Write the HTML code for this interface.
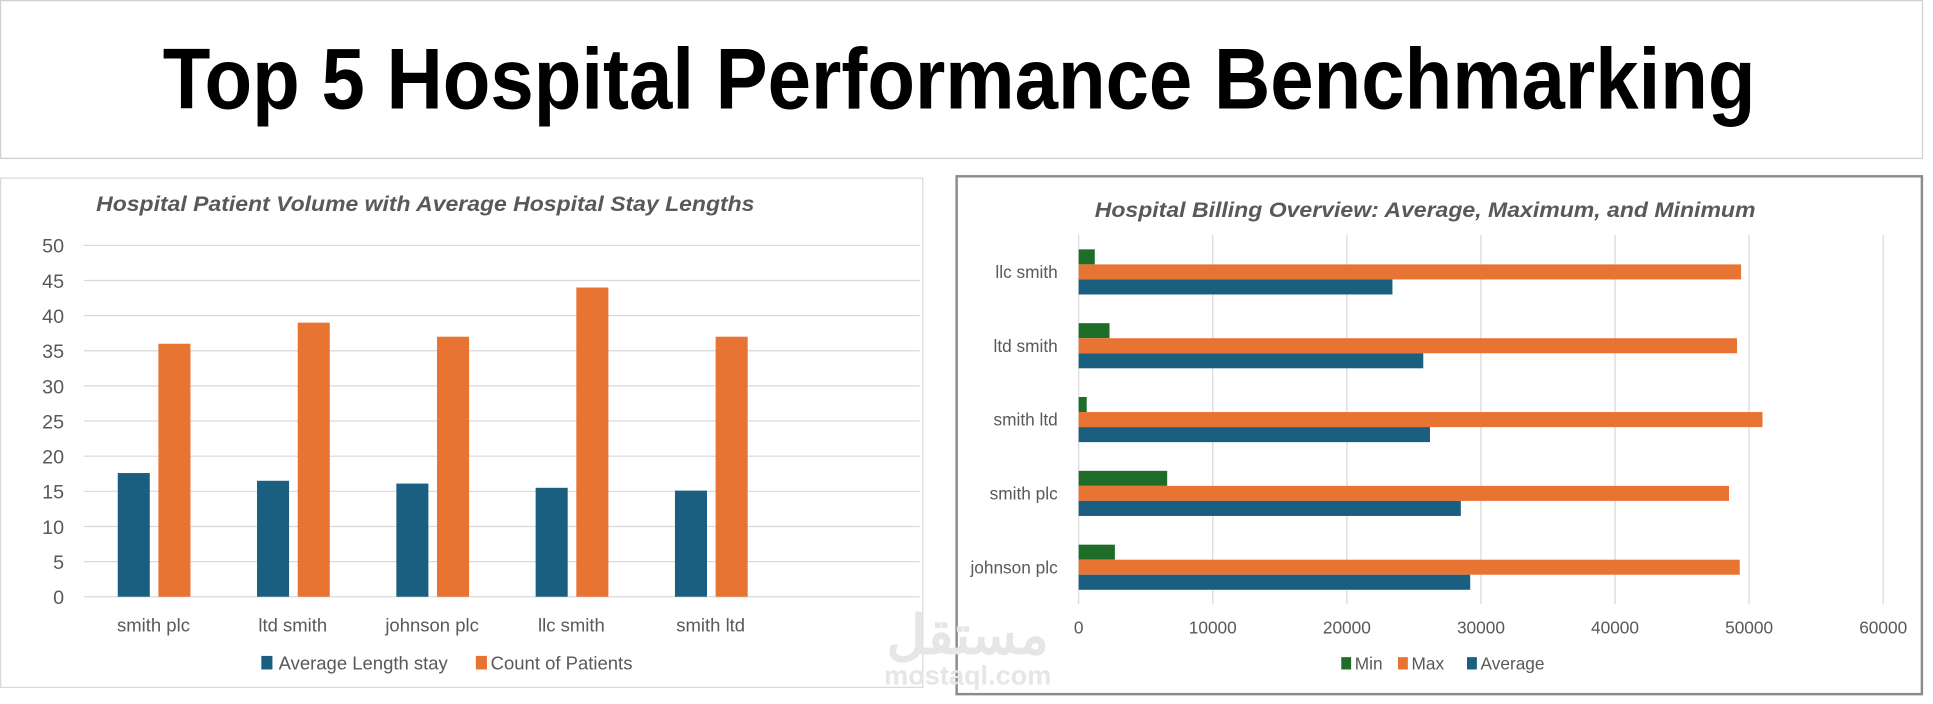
<!DOCTYPE html>
<html><head><meta charset="utf-8"><style>
html,body{margin:0;padding:0;background:#fff;}
svg{display:block;font-family:"Liberation Sans","Noto Sans CJK SC",sans-serif;}
</style></head><body>
<svg id="root" width="1933" height="704" viewBox="0 0 1568 571" preserveAspectRatio="none" xmlns="http://www.w3.org/2000/svg">
<rect x="0" y="0" width="1568" height="571" fill="#fff"/>
<rect x="0.5" y="0.5" width="1559" height="128" fill="#fff" stroke="#d0d0d0"/>
<text x="778" y="88" text-anchor="middle" font-size="70" font-weight="bold" fill="#000" textLength="1292" lengthAdjust="spacingAndGlyphs">Top 5 Hospital Performance Benchmarking</text>
<rect x="0.5" y="144.5" width="748" height="413" fill="#fff" stroke="#d9d9d9"/>
<text x="345" y="171" text-anchor="middle" font-size="17" font-weight="bold" font-style="italic" fill="#595959" textLength="534" lengthAdjust="spacingAndGlyphs">Hospital Patient Volume with Average Hospital Stay Lengths</text>
<rect x="776" y="143" width="783" height="420" fill="#fff" stroke="#8c8c8c" stroke-width="2"/>
<text x="1156" y="176" text-anchor="middle" font-size="17" font-weight="bold" font-style="italic" fill="#595959" textLength="536" lengthAdjust="spacingAndGlyphs">Hospital Billing Overview: Average, Maximum, and Minimum</text>
<g id="left"></g>
<g id="right"></g>
<text x="785" y="530" text-anchor="middle" font-size="44" font-weight="bold" fill="#e6e6e6">مستقل</text>
<text x="785" y="555" text-anchor="middle" font-size="22" font-weight="bold" fill="#e6e6e6">mostaql.com</text>
</svg>
<script>
const NS="http://www.w3.org/2000/svg";
// Left chart data
const leftCategories=["smith plc","ltd smith","johnson plc","llc smith","smith ltd"];
const avgStay=[17.6,16.5,16.1,15.5,15.1];
const patientCount=[36,39,37,44,37];
const leftTicks=[0,5,10,15,20,25,30,35,40,45,50];
// Right chart data
const rightCategories=["llc smith","ltd smith","smith ltd","smith plc","johnson plc"];
const billMin=[1200,2300,600,6600,2700];
const billMax=[49400,49100,51000,48500,49300];
const billAvg=[23400,25700,26200,28500,29200];
const rightTicks=[0,10000,20000,30000,40000,50000,60000];

function mk(parent,tag,attrs,text){const e=document.createElementNS(NS,tag);for(const k in attrs)e.setAttribute(k,attrs[k]);if(text!==undefined)e.textContent=text;parent.appendChild(e);return e;}
const BLUE="#1a5f80",ORANGE="#e87434",GREEN="#1e6e2a";

// LEFT
const L=document.getElementById('left');
const lx0=68,lx1=746,ly0=484,ly1=199,lmax=50;
const ly=v=>ly0-(v/lmax)*(ly0-ly1);
const slot=(lx1-lx0)/6;
const lcx=i=>lx0+slot*(i+0.5);
leftTicks.forEach(t=>{
  const g=mk(L,'line',{x1:lx0,x2:lx1,y1:ly(t),y2:ly(t),stroke:"#d9d9d9","stroke-width":1});
  
  
  const tx=mk(L,'text',{x:52,y:ly(t)+6,"text-anchor":"end","font-size":16,fill:"#595959"},String(t));
  
  
});
leftCategories.forEach((c,i)=>{
  const cx=lcx(i);
  const b=mk(L,'rect',{x:cx-29,y:ly(avgStay[i]),width:26,height:ly0-ly(avgStay[i]),fill:BLUE});
  
  
  const o=mk(L,'rect',{x:cx+4,y:ly(patientCount[i]),width:26,height:ly0-ly(patientCount[i]),fill:ORANGE});
  
  
  const t=mk(L,'text',{x:cx,y:512,"text-anchor":"middle","font-size":15,fill:"#595959"},c);
  
  
});
[[212,BLUE,"Average Length stay",226],[386,ORANGE,"Count of Patients",398]].forEach(([x,col,lab,tx])=>{
  const s=mk(L,'rect',{x:x,y:532,width:9,height:11,fill:col});
  
  
  const t=mk(L,'text',{x:tx,y:543,"font-size":15,fill:"#595959"},lab);
  
  
});

// RIGHT
const R=document.getElementById('right');
const rx0=875,rx1=1527.6,rmax=60000,rtop=190.6,rbot=490;
const rx=v=>rx0+(v/rmax)*(rx1-rx0);
const band=(rbot-rtop)/rightCategories.length;
rightTicks.forEach(t=>{
  const g=mk(R,'line',{x1:rx(t),x2:rx(t),y1:rtop,y2:rbot,stroke:"#d9d9d9","stroke-width":1});
  
  
  const tx=mk(R,'text',{x:rx(t),y:514,"text-anchor":"middle","font-size":14,fill:"#595959"},String(t));
  
  
});
const bh=12.2;
rightCategories.forEach((c,i)=>{
  const top=rtop+band*i+band/2-bh*1.5;
  [[billMin,GREEN,'bar-min-billing'],[billMax,ORANGE,'bar-max-billing'],[billAvg,BLUE,'bar-average-billing']].forEach(([arr,col,nm],k)=>{
    const r=mk(R,'rect',{x:rx0,y:top+k*bh,width:rx(arr[i])-rx0,height:bh,fill:col});
    
    
  });
  const t=mk(R,'text',{x:858,y:rtop+band*i+band/2+5,"text-anchor":"end","font-size":14,fill:"#595959"},c);
  
  
});
[[1088,GREEN,"Min"],[1134,ORANGE,"Max"],[1190,BLUE,"Average"]].forEach(([x,col,lab])=>{
  const s=mk(R,'rect',{x:x,y:533,width:8,height:10,fill:col});
  
  
  const t=mk(R,'text',{x:x+11,y:543,"font-size":14,fill:"#595959"},lab);
  
  
});
</script>
</body></html>
